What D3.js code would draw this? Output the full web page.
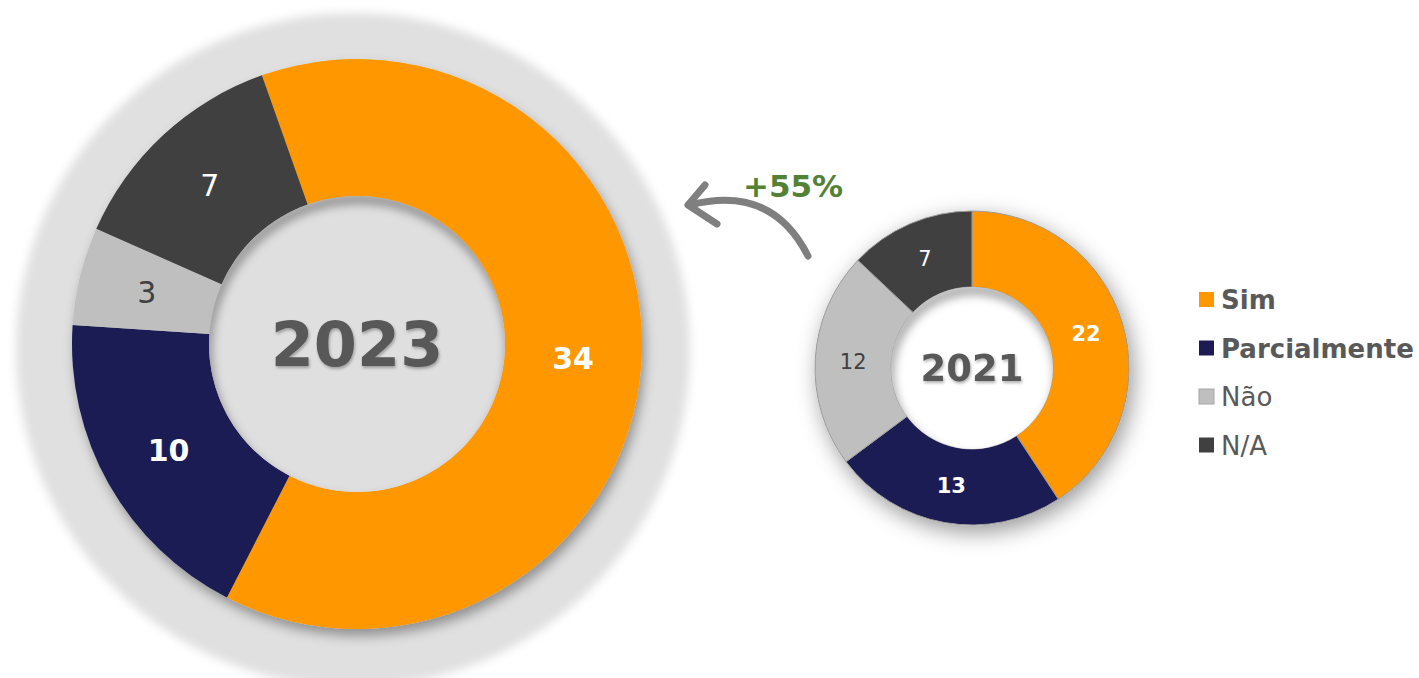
<!DOCTYPE html>
<html>
<head>
<meta charset="utf-8">
<script src="https://cdn.jsdelivr.net/npm/d3@7"></script>
<style>
  html, body { margin: 0; padding: 0; background: #fff; }
  svg { display: block; font-family: Tahoma, "DejaVu Sans", Verdana, sans-serif; }
</style>
</head>
<body>
<svg></svg>
<script>
// Data
const categories = ["Sim", "Parcialmente", "Não", "N/A"];
const values2023 = [34, 10, 3, 7];
const values2021 = [22, 13, 12, 7];
const years = ["2023", "2021"];
const growthLabel = "+55%";

const colors = ["#ff9700", "#1d1b54", "#bfbfbf", "#404040"];
const labelColors = ["#ffffff", "#ffffff", "#404040", "#ffffff"];
const boldCat = [true, true, false, false];

const width = 1419, height = 678;
const svg = d3.select("svg").attr("width", width).attr("height", height);
const defs = svg.append("defs");

// filters
const blurHalo = defs.append("filter").attr("id", "haloBlur")
  .attr("x", "-20%").attr("y", "-20%").attr("width", "140%").attr("height", "140%");
blurHalo.append("feGaussianBlur").attr("stdDeviation", 5);

const shadowBig = defs.append("filter").attr("id", "shadowBig")
  .attr("x", "-20%").attr("y", "-20%").attr("width", "140%").attr("height", "140%");
shadowBig.append("feDropShadow").attr("dx", 3).attr("dy", 7).attr("stdDeviation", 6)
  .attr("flood-color", "#000").attr("flood-opacity", 0.35);

const shadowSmall = defs.append("filter").attr("id", "shadowSmall")
  .attr("x", "-30%").attr("y", "-30%").attr("width", "160%").attr("height", "160%");
shadowSmall.append("feDropShadow").attr("dx", 4).attr("dy", 7).attr("stdDeviation", 11)
  .attr("flood-color", "#000").attr("flood-opacity", 0.4);

const innerBlur = defs.append("filter").attr("id", "innerBlur")
  .attr("x", "-20%").attr("y", "-20%").attr("width", "140%").attr("height", "140%");
innerBlur.append("feGaussianBlur").attr("stdDeviation", 5);

const textShadow = defs.append("filter").attr("id", "textShadow")
  .attr("x", "-20%").attr("y", "-20%").attr("width", "140%").attr("height", "140%");
textShadow.append("feDropShadow").attr("dx", 1).attr("dy", 2).attr("stdDeviation", 1.5)
  .attr("flood-color", "#000").attr("flood-opacity", 0.3);

// big halo behind 2023
svg.append("circle")
  .attr("cx", 353).attr("cy", 350).attr("r", 337)
  .attr("fill", "#e0e0e0")
  .attr("filter", "url(#haloBlur)");

function donut(opts) {
  const { id, values, cx, cy, rOuter, rInner, startDeg, holeFill, year, yearSize,
          labelSize, filter, stroke } = opts;

  const pie = d3.pie().sort(null)
    .startAngle(startDeg * Math.PI / 180)
    .endAngle(startDeg * Math.PI / 180 + 2 * Math.PI);
  const arc = d3.arc().innerRadius(rInner).outerRadius(rOuter);
  const labelArc = d3.arc().innerRadius((rInner + rOuter) / 2).outerRadius((rInner + rOuter) / 2);

  const g = svg.append("g").attr("transform", `translate(${cx},${cy})`);
  const arcs = pie(values);

  g.append("g").attr("filter", filter)
    .selectAll("path")
    .data(arcs)
    .enter().append("path")
    .attr("d", arc)
    .attr("fill", (d, i) => colors[i])
    .attr("stroke", stroke || "none")
    .attr("stroke-width", stroke ? 1 : 0);

  // hole with inner shadow
  defs.append("clipPath").attr("id", "hole" + id)
    .append("circle").attr("r", rInner);
  g.append("circle").attr("r", rInner).attr("fill", holeFill);
  g.append("g").attr("clip-path", `url(#hole${id})`)
    .append("circle")
    .attr("cx", 2).attr("cy", 7).attr("r", rInner + 4)
    .attr("fill", "none")
    .attr("stroke", "#000").attr("stroke-opacity", 0.35)
    .attr("stroke-width", 10)
    .attr("filter", "url(#innerBlur)");

  // slice labels
  g.selectAll("text.val")
    .data(arcs)
    .enter().append("text")
    .attr("class", "val")
    .attr("transform", d => `translate(${labelArc.centroid(d)})`)
    .attr("text-anchor", "middle")
    .attr("dy", "0.36em")
    .attr("fill", (d, i) => labelColors[i])
    .attr("font-weight", (d, i) => boldCat[i] ? "bold" : "normal")
    .attr("font-size", labelSize)
    .text(d => d.data);

  g.append("text")
    .attr("text-anchor", "middle")
    .attr("dy", "0.36em")
    .attr("font-size", yearSize)
    .attr("font-weight", "bold")
    .attr("fill", "#595959")
    .attr("filter", "url(#textShadow)")
    .text(year);
}

donut({ id: "a", values: values2023, cx: 357, cy: 344, rOuter: 285, rInner: 148,
  startDeg: -19.5, holeFill: "#dfdfdf", year: years[0], yearSize: 62, labelSize: 30,
  filter: "url(#shadowBig)" });

donut({ id: "b", values: values2021, cx: 972, cy: 368, rOuter: 157, rInner: 81,
  startDeg: 0, holeFill: "#ffffff", year: years[1], yearSize: 37, labelSize: 21,
  filter: "url(#shadowSmall)", stroke: "#9a9a9a" });

// growth arrow
svg.append("path")
  .attr("d", "M808,256 Q772,184 690,205")
  .attr("fill", "none").attr("stroke", "#7f7f7f")
  .attr("stroke-width", 7).attr("stroke-linecap", "round");
svg.append("path")
  .attr("d", "M705,185 L688,205 L717,224")
  .attr("fill", "none").attr("stroke", "#7f7f7f")
  .attr("stroke-width", 7).attr("stroke-linecap", "round").attr("stroke-linejoin", "round");

svg.append("text")
  .attr("x", 793).attr("y", 197)
  .attr("text-anchor", "middle")
  .attr("font-size", 31).attr("font-weight", "bold")
  .attr("fill", "#548235")
  .text(growthLabel);

// legend
const legend = svg.append("g").attr("transform", "translate(1199,300)");
const item = legend.selectAll("g")
  .data(categories)
  .enter().append("g")
  .attr("transform", (d, i) => `translate(0,${i * 48.5})`);
item.append("rect")
  .attr("x", 0).attr("y", -8).attr("width", 15).attr("height", 15)
  .attr("fill", (d, i) => colors[i])
  .attr("stroke", (d, i) => i === 2 ? "#a6a6a6" : "none");
item.append("text")
  .attr("x", 22).attr("dy", "0.36em")
  .attr("font-size", 26)
  .attr("font-weight", (d, i) => boldCat[i] ? "bold" : "normal")
  .attr("fill", "#595959")
  .text(d => d);
</script>
</body>
</html>
